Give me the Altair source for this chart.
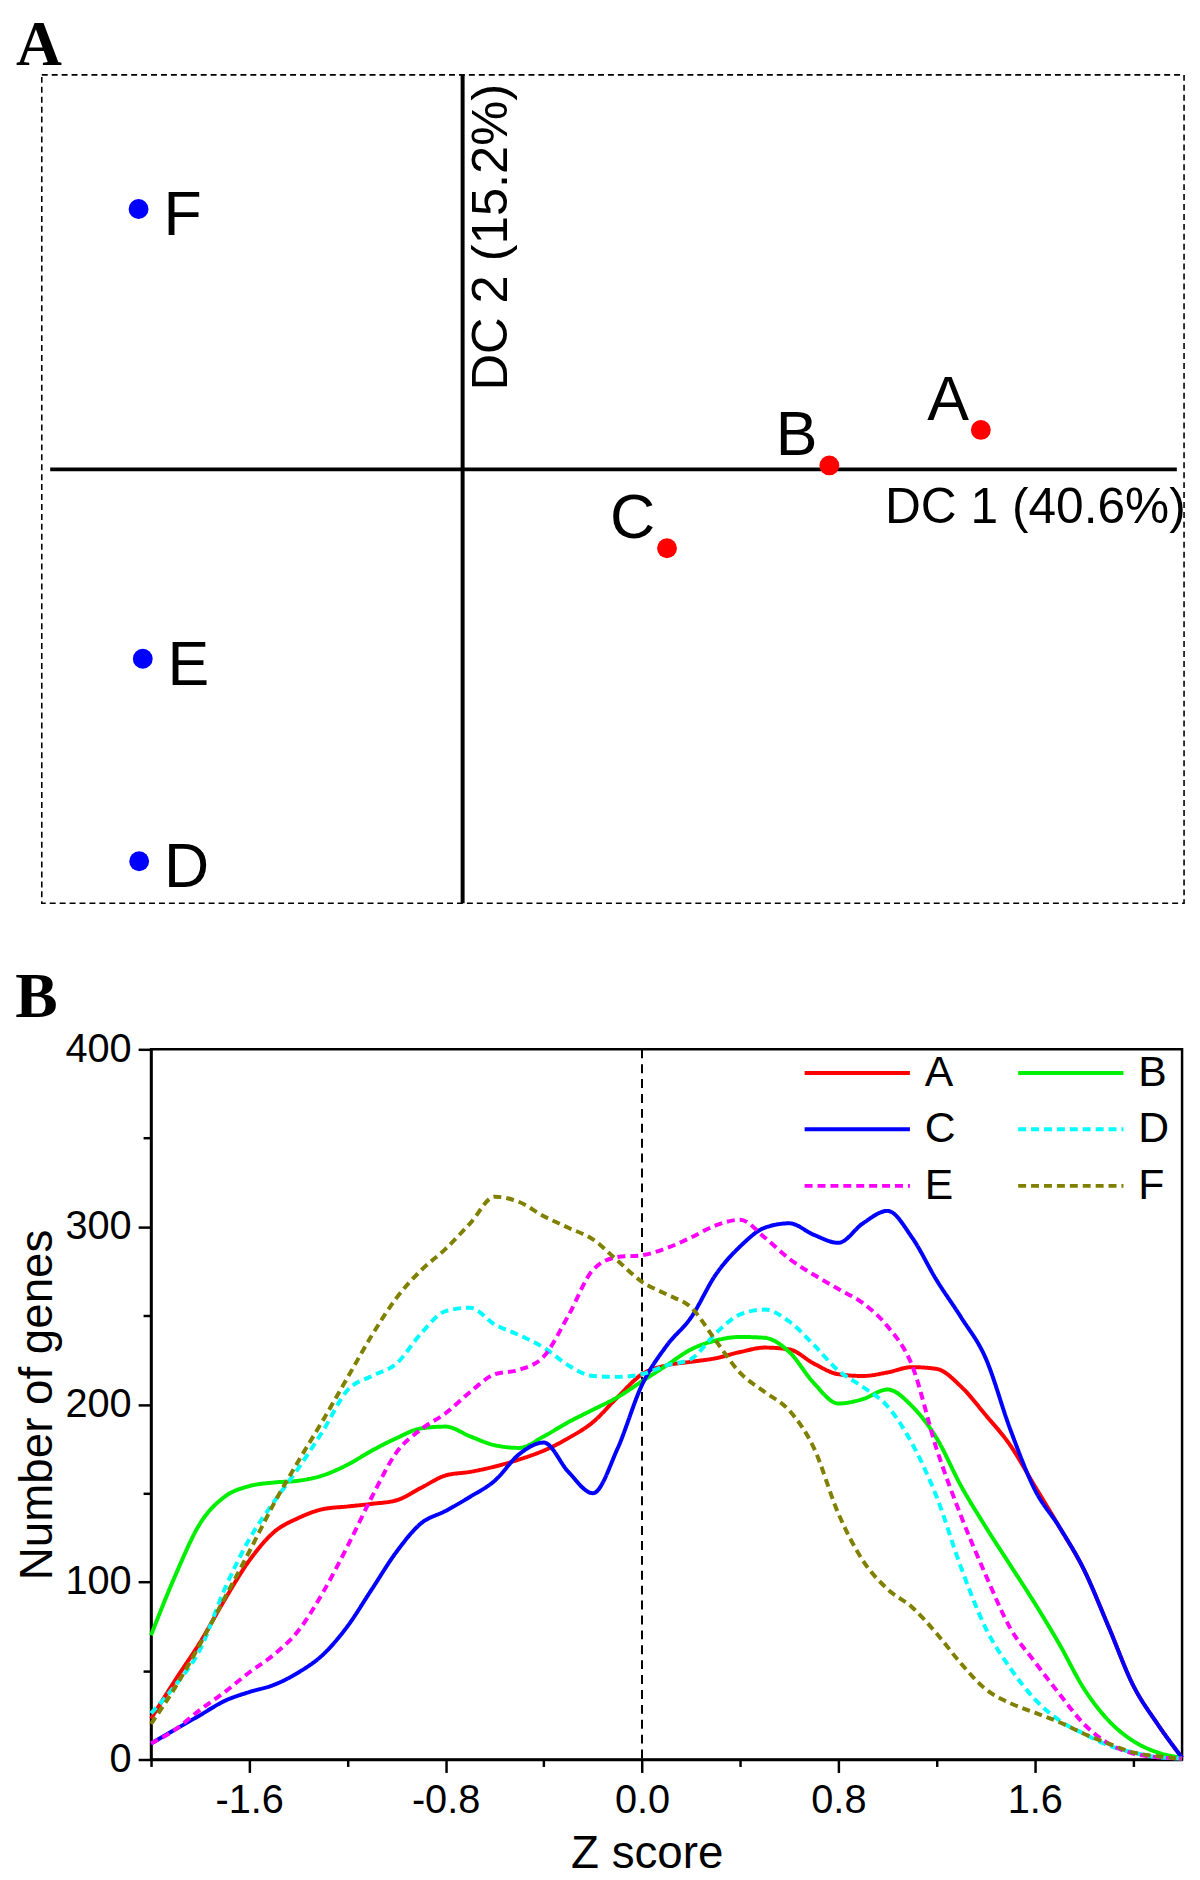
import altair as alt
import pandas as pd

# ---------------- Panel A : discriminant scores ----------------
sample_names = ["A", "B", "C", "D", "E", "F"]
dc1_scores = [4.31, 3.05, 1.70, -2.69, -2.66, -2.695]
dc2_scores = [0.30, 0.03, -0.60, -2.98, -1.44, 1.98]
sample_groups = ["g1", "g1", "g1", "g2", "g2", "g2"]
group_names = ["g1", "g2"]
group_colors = ["#ff0000", "#0000ff"]
dc1_domain = [-3.5, 6.0]
dc2_domain = [-3.3, 3.0]
dc1_axis_span = [-3.43, 5.94]
origin = [0.0]
dc1_label = "DC 1 (40.6%)"
dc2_label = "DC 2 (15.2%)"

# ---------------- Panel B : Z score distributions ----------------
z_values = [-2.0, -1.9, -1.8, -1.7, -1.6, -1.5, -1.4, -1.3, -1.2, -1.1, -1.0,
            -0.9, -0.8, -0.7, -0.6, -0.5, -0.4, -0.3, -0.2, -0.1, 0.0,
            0.1, 0.2, 0.3, 0.4, 0.5, 0.6, 0.7, 0.8, 0.9, 1.0,
            1.1, 1.2, 1.3, 1.4, 1.5, 1.6, 1.7, 1.8, 1.9, 2.0, 2.1, 2.2]
genes_A = [23, 45, 66, 90, 112, 128, 136, 141, 142.5, 144, 146,
           153, 160, 162, 165, 169, 174, 181, 190, 204, 217,
           222, 224, 226, 229.5, 232, 231, 223, 217, 216, 218,
           221, 220, 210, 194, 177, 154, 131, 107, 75, 42, 20, 1]
genes_B = [70, 104, 133, 148, 154, 156, 157, 160, 166, 174, 181,
           186.5, 187.5, 182, 177, 175.5, 182, 190, 197, 204, 213,
           222, 231, 236, 238, 237.5, 229.5, 212, 200.5, 203, 208.4,
           199, 181, 154, 131, 109.5, 88, 65, 40, 22, 10.5, 4, 1]
genes_C = [9, 17, 25, 33, 38, 42, 49, 59, 75, 96, 117,
           133, 140, 148, 157, 172, 178.5, 162, 150, 175, 211,
           233, 249, 273, 289, 299.5, 302, 295.5, 291, 302, 309,
           294, 270, 249, 226, 186, 152, 131, 107, 75, 42, 20, 1]
genes_D = [26, 42, 62, 96, 124, 145, 164, 185, 208, 216, 223,
           240, 252.5, 254.5, 245, 239, 232, 222, 216, 215.5, 217,
           222, 225.6, 240, 250.7, 253.4, 246.7, 233.5, 219, 209.8, 199,
           178, 148, 108, 74, 51.5, 34, 22, 14.5, 8, 4, 1.3, 0.5]
genes_E = [9, 17, 28, 38, 49, 59, 72.5, 94, 120, 148, 173,
           186, 195, 207, 217, 219.5, 227, 250, 275.7, 283, 284,
           288, 294, 300.8, 304, 294, 282, 273, 265, 257, 244,
           222, 175, 137, 104, 74, 55, 37, 20, 9, 3.4, 1.3, 0.5]
genes_F = [20, 41, 65, 91, 117, 144, 168, 191, 215, 239, 260,
           275.5, 287.6, 302, 317, 314, 306, 299.5, 293, 281, 269,
           262, 254.6, 236, 217.7, 207, 196.6, 175.5, 138.5, 112, 96,
           85.8, 71, 54, 39.6, 31.7, 26.4, 21, 14.5, 9, 4, 1.8, 0.5]
series_names = ["A", "B", "C", "D", "E", "F"]
series_colors = ["#ff0000", "#00ee00", "#0000ff", "#00ffff", "#ff00ff", "#808000"]
series_dashes = [[1, 0], [1, 0], [1, 0], [8, 5], [8, 5], [8, 5]]
x_ticks = [-2.0, -1.6, -1.2, -0.8, -0.4, 0.0, 0.4, 0.8, 1.2, 1.6, 2.0]
y_ticks = [0, 50, 100, 150, 200, 250, 300, 350, 400]
zero_line = [0.0]

FONT = "Liberation Sans"

# ---------- build panel A ----------
df_a = pd.DataFrame({"dc1": dc1_scores, "dc2": dc2_scores,
                     "sample": sample_names, "group": sample_groups})
# panel A's frame starts 110 px left of panel B's plot area
xa = alt.Scale(domain=dc1_domain, nice=False, zero=False, range=[-110, 1040])
ya = alt.Scale(domain=dc2_domain, nice=False, zero=False)

frame_a = alt.Chart(pd.DataFrame({"x1": [dc1_domain[0]], "x2": [dc1_domain[1]],
                                  "y1": [dc2_domain[0]], "y2": [dc2_domain[1]]})).mark_rect(
    filled=False, stroke="black", strokeWidth=1.6, strokeDash=[6, 4]).encode(
    x=alt.X("x1:Q", scale=xa, axis=None), x2="x2:Q",
    y=alt.Y("y1:Q", scale=ya, axis=None), y2="y2:Q")
vline_a = alt.Chart(pd.DataFrame({"x": origin})).mark_rule(
    color="black", strokeWidth=4).encode(x=alt.X("x:Q", scale=xa, axis=None))
hline_a = alt.Chart(pd.DataFrame({"x1": [dc1_axis_span[0]], "x2": [dc1_axis_span[1]],
                                  "y": origin})).mark_rule(
    color="black", strokeWidth=4).encode(
    x=alt.X("x1:Q", scale=xa, axis=None), x2="x2:Q",
    y=alt.Y("y:Q", scale=ya, axis=None))
pts_a = alt.Chart(df_a).mark_point(filled=True, size=400, opacity=1).encode(
    x=alt.X("dc1:Q", scale=xa, axis=None),
    y=alt.Y("dc2:Q", scale=ya, axis=None),
    color=alt.Color("group:N", scale=alt.Scale(domain=group_names, range=group_colors),
                    legend=None))
lab_left = alt.Chart(df_a).transform_filter(alt.datum.group == "g2").mark_text(
    font=FONT, fontSize=63, align="left", baseline="alphabetic", dx=25, dy=26,
    color="black").encode(x=alt.X("dc1:Q", scale=xa, axis=None),
                          y=alt.Y("dc2:Q", scale=ya, axis=None), text="sample:N")
lab_right = alt.Chart(df_a).transform_filter(alt.datum.group == "g1").mark_text(
    font=FONT, fontSize=63, align="right", baseline="alphabetic", dx=-12, dy=-10,
    color="black").encode(x=alt.X("dc1:Q", scale=xa, axis=None),
                          y=alt.Y("dc2:Q", scale=ya, axis=None), text="sample:N")
dc1_text = alt.Chart(pd.DataFrame({"x": [dc1_axis_span[1]], "y": origin,
                                   "t": [dc1_label]})).mark_text(
    font=FONT, fontSize=50, align="right", baseline="alphabetic", dx=9, dy=54,
    color="black").encode(x=alt.X("x:Q", scale=xa, axis=None),
                          y=alt.Y("y:Q", scale=ya, axis=None), text="t:N")
dc2_text = alt.Chart(pd.DataFrame({"x": origin, "y": [dc2_domain[1]],
                                   "t": [dc2_label]})).mark_text(
    font=FONT, fontSize=51, align="right", baseline="top", angle=270, dx=-9, dy=5,
    color="black").encode(x=alt.X("x:Q", scale=xa, axis=None),
                          y=alt.Y("y:Q", scale=ya, axis=None), text="t:N")

panel_a = alt.layer(frame_a, vline_a, hline_a, pts_a, lab_left, lab_right,
                    dc1_text, dc2_text).properties(
    width=1040, height=834,
    view=alt.ViewBackground(strokeWidth=0, strokeOpacity=0),
    title=alt.TitleParams("A", anchor="start", frame="group", dx=-136, dy=-9,
                          font="Liberation Serif", fontSize=64, fontWeight="bold",
                          color="black", offset=-14))

# ---------- build panel B ----------
all_vals = [genes_A, genes_B, genes_C, genes_D, genes_E, genes_F]
rows = []
for name, vals in zip(series_names, all_vals):
    for zz, v in zip(z_values, vals):
        rows.append({"z": zz, "n": v, "series": name})
df_b = pd.DataFrame(rows)

major_x = "abs(datum.value/0.8 - round(datum.value/0.8)) < 0.01"
x_axis = alt.Axis(
    values=x_ticks, title="Z score", titleFont=FONT, titleFontSize=46,
    titleFontWeight="normal", titleColor="black", titlePadding=12, titleX=499,
    labelFont=FONT, labelFontSize=40, labelColor="black", labelPadding=8,
    labelExpr=f"{major_x} ? ((datum.value < -0.001 ? '-' : '') + format(abs(datum.value), '.1f')) : ''",
    labelFlush=False, labelOverlap=False,
    tickSize={"condition": {"test": f"!({major_x})", "value": 7}, "value": 13},
    tickWidth=2.5, tickColor="black", domainColor="black", domainWidth=2.5, grid=False)
y_axis = alt.Axis(
    values=y_ticks, title="Number of genes", titleFont=FONT, titleFontSize=46,
    titleFontWeight="normal", titleColor="black", titlePadding=3,
    labelFont=FONT, labelFontSize=40, labelColor="black", labelPadding=7,
    labelExpr="datum.value % 100 == 0 ? datum.label : ''",
    labelFlush=False, labelOverlap=False,
    tickSize={"condition": {"test": "datum.value % 100 != 0", "value": 8}, "value": 13},
    tickWidth=2.5, tickColor="black", domainColor="black", domainWidth=2.5, grid=False)

xs = alt.Scale(domain=[-2.0, 2.2], nice=False, zero=False)
ys = alt.Scale(domain=[0, 400], nice=False)

legend_b = alt.Legend(
    title=None, orient="none", legendX=656, legendY=2, direction="horizontal", columns=2,
    symbolType="stroke", symbolSize=11236, symbolStrokeWidth=4, clipHeight=43,
    labelFont=FONT, labelFontSize=43, labelColor="black", labelOffset=13, labelLimit=0,
    columnPadding=60, rowPadding=13, padding=0)

lines_b = alt.Chart(df_b).mark_line(strokeWidth=4, interpolate="monotone").encode(
    x=alt.X("z:Q", scale=xs, axis=x_axis),
    y=alt.Y("n:Q", scale=ys, axis=y_axis),
    color=alt.Color("series:N", scale=alt.Scale(domain=series_names, range=series_colors),
                    legend=legend_b),
    strokeDash=alt.StrokeDash("series:N",
                              scale=alt.Scale(domain=series_names, range=series_dashes),
                              legend=legend_b),
    detail="series:N")
zero_b = alt.Chart(pd.DataFrame({"z": zero_line})).mark_rule(
    color="black", strokeWidth=2, strokeDash=[9, 6]).encode(x=alt.X("z:Q", scale=xs))

panel_b = alt.layer(zero_b, lines_b).properties(
    width=1038, height=715,
    view=alt.ViewBackground(stroke="black", strokeWidth=2.5),
    title=alt.TitleParams("B", anchor="start", font="Liberation Serif", dy=-4,
                          fontSize=64, fontWeight="bold", color="black", offset=-4))

chart = alt.vconcat(panel_a, panel_b, spacing=59,
                    padding={"left": 6, "top": 0, "right": 0, "bottom": 0}).resolve_scale(
    color="independent", strokeDash="independent").resolve_legend(
    color="independent", strokeDash="independent").configure(background="white")

chart.save("out.html", embed_options={"renderer": "svg", "actions": False})
